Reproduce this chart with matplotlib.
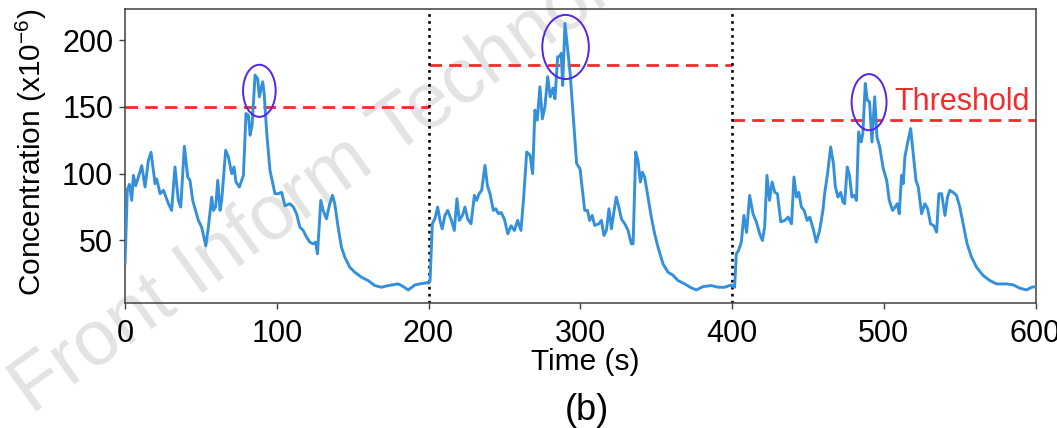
import matplotlib
matplotlib.use("Agg")
import matplotlib.pyplot as plt
from matplotlib.patches import Ellipse

plt.rcParams['font.family'] = ['Liberation Sans', 'DejaVu Sans']
plt.rcParams['mathtext.fontset'] = 'custom'
plt.rcParams['mathtext.rm'] = 'Liberation Sans'
plt.rcParams['mathtext.it'] = 'Liberation Sans:italic'

# three 200 s runs stitched together
time_s = [
    0, 1.5, 2.9, 4.4, 5.5, 7.0, 8.8, 11.0, 13.2, 15.4, 17.1, 19.8, 20.9, 23.1, 25.3,
    28.6, 30.7, 32.9, 35.1, 36.7, 39.1, 41.3, 42.8, 44.6, 48.3, 50.5, 53.2, 54.9, 57.1,
    58.2, 59.7, 61.1, 62.6, 63.7, 66.3, 68.1, 70.3, 71.8, 73.1, 75.3, 78.0, 79.7, 81.3,
    82.4, 83.7, 85.7, 87.4, 88.5, 90.7, 91.6, 93.4, 95.5, 98.8, 101.0, 103.2, 105.4,
    108.7, 110.9, 113.0, 115.2, 117.4, 119.6, 121.8, 124.0, 125.5, 126.8, 129.0, 130.5,
    132.7, 134.9, 136.7, 138.2, 140.4, 142.6, 144.8, 148.1, 151.4, 155.8, 160.2, 164.6,
    169.0, 173.4, 180.0, 183.3, 186.6, 191.0, 195.4, 199.6,
    200.0, 201.0, 202.5, 204.2, 206.0, 207.6, 209.0, 210.8, 212.6, 214.8, 217.0, 218.7,
    220.3, 222.3, 224.0, 225.8, 228.0, 230.2, 231.7, 233.3, 235.0, 237.2, 238.8, 240.5,
    242.7, 244.3, 246.0, 247.8, 250.0, 252.2, 254.4, 256.6, 258.7, 260.9, 262.7, 264.7,
    266.9, 268.6, 270.1, 271.6, 273.4, 275.0, 276.7, 278.5, 280.2, 282.0, 283.3, 285.1,
    286.6, 287.4, 288.4, 289.9, 291.5, 293.3, 295.4, 297.6, 299.8, 302.9, 304.7, 306.2,
    307.8, 309.5, 312.2, 313.9, 315.6, 317.2, 318.9, 320.5, 322.3, 323.7, 325.4, 327.1,
    329.3, 331.5, 333.6, 334.8, 336.5, 338.0, 339.6, 340.9, 342.4, 344.6, 346.8, 349.0,
    351.2, 354.5, 357.8, 361.1, 364.4, 368.8, 373.2, 376.5, 380.9, 386.4, 390.8, 395.2,
    399.6,
    400.0, 401.7, 402.8, 404.3, 406.1, 407.8, 409.6, 411.6, 413.8, 416.0, 418.2, 420.0,
    421.5, 423.0, 424.7, 426.4, 428.2, 429.9, 432.1, 434.8, 437.0, 439.2, 440.8, 442.5,
    444.0, 445.7, 447.5, 449.5, 451.2, 453.4, 455.5, 457.7, 459.9, 461.0, 462.8, 465.0,
    466.8, 468.1, 469.8, 471.6, 473.1, 474.2, 475.9, 477.4, 479.0, 480.7, 482.0, 483.4,
    485.1, 486.2, 487.8, 489.1, 490.6, 492.2, 494.0, 495.5, 497.3, 499.6, 501.9, 503.6,
    505.8, 507.4, 508.9, 510.2, 511.7, 512.8, 513.9, 515.6, 517.7, 519.4, 521.2, 522.7,
    524.9, 527.1, 528.9, 530.8, 533.0, 534.8, 536.3, 538.1, 540.3, 542.0, 543.5, 545.7,
    547.9, 550.1, 552.3, 554.9, 557.8, 561.1, 565.5, 569.9, 574.3, 580.9, 585.3, 589.7,
    594.1, 597.4, 600.0,
]
concentration = [
    33, 88, 92, 80, 98.7, 91, 97.5, 106, 90, 110, 116, 92.5, 96, 85, 87.5,
    77.5, 72.5, 105, 80, 75, 120.5, 97.5, 95, 80, 65, 60, 46, 60, 82.5,
    72.5, 75, 95, 72.5, 80, 117.5, 112.5, 100, 105, 93.7, 90, 98.7, 145, 143.7,
    128.75, 136, 173.75, 171, 157.5, 168.75, 161, 130, 102.5, 85, 85, 86, 76,
    77.5, 75, 70, 60, 57.5, 52.5, 48.75, 47.5, 48.75, 40, 80, 72.5,
    66.25, 77.5, 83.75, 77.5, 60, 45, 37.5, 30, 26.25, 22.5, 20, 16.25,
    15, 16.25, 17.5, 15.5, 13, 16.75, 17.75, 18.5,
    18, 20, 62.5, 66.25, 75, 64.6, 58.75, 68.75, 72.5, 66, 57.5, 81.25,
    65, 68.75, 75, 66, 62.5, 83.75, 80, 85, 87.5, 106.25, 91, 85,
    72.5, 73.75, 70, 71, 66, 55, 61, 57.5, 65, 57.5, 82.5, 116.25,
    113.75, 100, 147.5, 140, 165, 141, 150, 172.5, 157.5, 164, 156, 187.5,
    187.5, 190, 166, 212.5, 195, 175, 142.5, 107.5, 103.75, 72.5, 72.5, 65,
    68.75, 61.25, 62.5, 65, 53.75, 57.5, 73.75, 58.75, 72.5, 82.5, 75, 66,
    62.5, 57.5, 47.5, 47.5, 116.25, 110, 93.75, 101, 97.5, 82.5, 67.5, 55,
    45, 32.5, 26.25, 24, 20, 17.5, 14.5, 13, 15.5, 16.25, 15, 15,
    16.75,
    16, 15, 40, 42.5, 48.75, 68.75, 56, 83.75, 70, 64, 55, 50,
    60, 98.75, 80, 93.75, 86, 85, 64, 65, 67.5, 62.5, 97.5, 82.5,
    86, 75, 72.5, 65, 67.5, 59, 48.75, 57.5, 72.5, 85, 98.75, 120,
    107.5, 90, 82.5, 86, 78.75, 77.5, 105, 98.75, 82.5, 83.75, 80, 131.25,
    123.75, 130, 167.5, 155, 153.75, 123.75, 157.5, 127.5, 120, 104, 95, 80,
    72.5, 75, 77.5, 70, 98.75, 92.5, 112.5, 122.5, 133.75, 115, 95, 90,
    70, 77.5, 73.75, 62.5, 61, 56.25, 85, 85, 68.75, 82.5, 87.5, 86,
    83.75, 75, 62.5, 47.5, 37.5, 30, 23.75, 20, 17.5, 17.5, 16.75, 14.25,
    13, 15, 15.5,
]

# per-run alarm thresholds
run_bounds = [(0, 200), (200, 400), (400, 600)]
thresholds = [150, 181, 140]
run_splits = [200, 400]

# exceedance markers: (centre t, centre c, width, height)
peak_marks = [
    (88.5, 162, 21.5, 39),
    (290.3, 194.8, 30.7, 48),
    (490.3, 153.5, 23, 42),
]

fig = plt.figure(figsize=(10.57, 4.28), dpi=100)
ax = fig.add_axes([0.1183, 0.2914, 0.8614, 0.6869])
ax.set_zorder(1)
ax.patch.set_alpha(0)

fig.text(0.03, 0.03, 'Front Inform Technol Electron Eng', fontsize=56, color='#e3e3e3',
         rotation=35.5, rotation_mode='anchor', ha='left', va='baseline', zorder=0)

ax.plot(time_s, concentration, color='#3590dc', lw=2.1, zorder=3)

for (x0, x1), thr in zip(run_bounds, thresholds):
    ax.plot([x0, x1], [thr, thr], color='#f52a2a', lw=2,
            linestyle=(0, (4.5, 2.6)), zorder=2)

for xs in run_splits:
    ax.axvline(xs, color='black', lw=1.9, linestyle=':', zorder=2)

for cx, cy, w, h in peak_marks:
    ax.add_patch(Ellipse((cx, cy), w, h, fill=False, edgecolor='#5522ee', lw=1.4, zorder=4))

ax.text(507, 148, 'Threshold', color='#f52a2a', fontsize=22, ha='left', va='baseline')

ax.set_xlim(0, 600)
ax.set_ylim(3, 223)
ax.set_xticks([0, 100, 200, 300, 400, 500, 600])
ax.set_yticks([50, 100, 150, 200])

for sp in ax.spines.values():
    sp.set_color('#404040')
    sp.set_linewidth(1.1)
ax.tick_params(axis='both', direction='out', length=4.5, width=1.0, color='#404040',
               labelsize=22)
ax.tick_params(axis='x', pad=6.5)
ax.tick_params(axis='y', pad=4)

fig.text(31 / 1057, 1 - 152 / 428, r'Concentration (x10$^{-6}$)', rotation=90,
         ha='center', va='center', fontsize=21.5)
fig.text(585 / 1057, 58 / 428, 'Time (s)', ha='center', va='baseline', fontsize=21.5)
fig.text(587 / 1057, 8 / 428, '(b)', ha='center', va='baseline', fontsize=26)

fig.savefig('out.png', dpi=100, facecolor='white')
